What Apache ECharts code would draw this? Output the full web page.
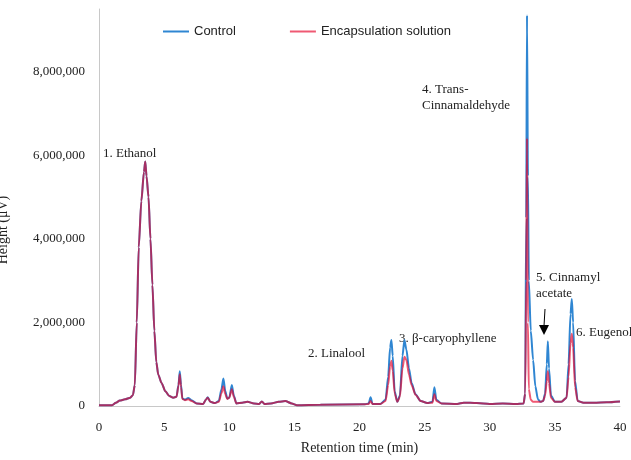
<!DOCTYPE html>
<html>
<head>
<meta charset="utf-8">
<script src="https://cdn.jsdelivr.net/npm/echarts@6/dist/echarts.min.js"></script>
<style>
  html, body { margin: 0; padding: 0; background: #fff; }
  #main { width: 631px; height: 460px; }
</style>
</head>
<body>
<div id="main"></div>
<script>
// Retention time (min)
var times = [
  0.0, 1.0, 1.3, 1.6, 2.0, 2.4, 2.6, 2.75, 2.9, 3.05, 3.25, 3.45, 3.55, 3.65, 3.8, 3.95, 4.1, 4.25, 4.4, 4.55,
  4.8, 5.1, 5.4, 5.7, 5.95, 6.1, 6.2, 6.3, 6.4, 6.6, 6.85, 7.1, 7.5, 8.0, 8.2, 8.35, 8.55, 8.9, 9.2, 9.4,
  9.55, 9.7, 9.85, 10.0, 10.2, 10.35, 10.55, 11.0, 11.4, 11.9, 12.3, 12.5, 12.7, 13.2, 13.8, 14.3, 14.8, 15.2, 17.0, 20.4,
  20.7, 20.85, 21.0, 21.6, 22.0, 22.2, 22.35, 22.45, 22.55, 22.7, 22.9, 23.1, 23.3, 23.45, 23.6, 23.8, 24.0, 24.3, 24.7, 25.2,
  25.6, 25.75, 25.9, 26.3, 27.5, 28.0, 29.0, 30.0, 31.0, 32.0, 32.6, 32.72, 32.8, 32.86, 32.93, 33.0, 33.15, 33.33, 33.5, 33.7,
  33.9, 34.1, 34.25, 34.38, 34.46, 34.55, 34.7, 35.0, 35.5, 35.9, 36.05, 36.2, 36.3, 36.4, 36.55, 36.75, 37.2, 38.0, 39.0, 40.0
];
// Height (µV), Control
var control = [
  2e4, 2e4, 8e4, 1.3e5, 1.6e5, 2e5, 2.6e5, 5e5, 2.0e6, 3.8e6, 4.9e6, 5.6e6, 5.85e6, 5.5e6, 5.0e6, 4.0e6, 2.9e6, 1.8e6, 1.05e6, 7.5e5,
  5.5e5, 3.5e5, 2.4e5, 2e5, 2.2e5, 5e5, 8.3e5, 5e5, 1.8e5, 1.5e5, 1.9e5, 1.4e5, 6e4, 5e4, 1.5e5, 2.1e5, 1e5, 7e4, 1.2e5, 4e5,
  6.6e5, 3.5e5, 1.8e5, 2e5, 5e5, 2.5e5, 6e4, 8e4, 1e5, 6e4, 5e4, 1.1e5, 5e4, 6e4, 1e5, 1.2e5, 6e4, 2e4, 3e4, 4e4,
  6e4, 2.1e5, 5e4, 5e4, 1.5e5, 7e5, 1.4e6, 1.58e6, 1.2e6, 3.5e5, 1e5, 2.5e5, 1.2e6, 1.58e6, 1.35e6, 9e5, 5.5e5, 2.8e5, 1.2e5, 7e4,
  1e5, 4.5e5, 1.5e5, 6e4, 5e4, 8e4, 7e4, 5e4, 6e4, 5e4, 6e4, 3e5, 4.5e6, 9.35e6, 5.5e6, 3.0e6, 1.8e6, 1.1e6, 4.7e5, 1.6e5,
  1e5, 1.2e5, 3e5, 1.0e6, 1.55e6, 9e5, 2.5e5, 1e5, 1e5, 2e5, 1.0e6, 2.2e6, 2.56e6, 2.0e6, 6e5, 1.2e5, 8e4, 8e4, 9e4, 1.1e5
];
// Height (µV), Encapsulation solution
var encapsulation = [
  2e4, 2e4, 8e4, 1.3e5, 1.6e5, 2e5, 2.6e5, 5e5, 2.0e6, 3.8e6, 4.9e6, 5.6e6, 5.85e6, 5.5e6, 5.0e6, 4.0e6, 2.9e6, 1.8e6, 1.05e6, 7.5e5,
  5.5e5, 3.5e5, 2.4e5, 2e5, 2.2e5, 4.8e5, 7.6e5, 4.5e5, 1.7e5, 1.4e5, 1.6e5, 1.2e5, 6e4, 5e4, 1.5e5, 2e5, 1e5, 7e4, 1e5, 3e5,
  4.7e5, 2.8e5, 1.7e5, 2e5, 4e5, 2.2e5, 6e4, 8e4, 1e5, 6e4, 5e4, 1.1e5, 5e4, 6e4, 1e5, 1.2e5, 6e4, 2e4, 3e4, 4e4,
  5e4, 1.2e5, 5e4, 5e4, 1.2e5, 5e5, 9.5e5, 1.08e6, 8.5e5, 3e5, 1e5, 2.2e5, 9e5, 1.18e6, 1.1e6, 7.5e5, 5e5, 2.7e5, 1.2e5, 7e4,
  8e4, 2.8e5, 1.2e5, 6e4, 5e4, 8e4, 7e4, 5e4, 6e4, 5e4, 6e4, 3e5, 3.0e6, 6.41e6, 2.0e6, 4e5, 1.5e5, 1e5, 1e5, 1e5,
  1e5, 1.2e5, 2.5e5, 6e5, 8.3e5, 5.5e5, 2e5, 1e5, 1e5, 2e5, 7e5, 1.5e6, 1.73e6, 1.4e6, 4.5e5, 1.2e5, 8e4, 8e4, 9e4, 1.1e5
];
var seriesNames = ['Control', 'Encapsulation solution'];
var xTicks = [0, 5, 10, 15, 20, 25, 30, 35, 40];
var yTicks = [0, 2000000, 4000000, 6000000, 8000000];
var peakLabels = [
  { text: '1. Ethanol', x: 103, y: 154 },
  { text: '2. Linalool', x: 308, y: 354 },
  { text: '3. \u03b2-caryophyllene', x: 399, y: 339 },
  { text: '4. Trans-\nCinnamaldehyde', x: 422, y: 98 },
  { text: '5. Cinnamyl\nacetate', x: 536, y: 286 },
  { text: '6. Eugenol', x: 576, y: 333 }
];

function pairs(xs, ys) {
  var out = [];
  for (var i = 0; i < xs.length; i++) out.push([xs[i], ys[i]]);
  return out;
}

var serifFont = '"Liberation Serif", "Times New Roman", serif';
var chart = echarts.init(document.getElementById('main'), null, { renderer: 'canvas' });

var graphics = peakLabels.map(function (p) {
  return {
    type: 'text',
    left: p.x,
    top: p.y - (p.text.indexOf('\n') >= 0 ? 16 : 8),
    style: { text: p.text, font: '13px ' + serifFont, fill: '#222', lineHeight: 16 }
  };
});
// arrow to cinnamyl acetate
graphics.push({
  type: 'line',
  shape: { x1: 545, y1: 309, x2: 544, y2: 326 },
  style: { stroke: '#000', lineWidth: 1 }
});
graphics.push({
  type: 'polygon',
  shape: { points: [[539, 325], [549, 325], [544, 335]] },
  style: { fill: '#000' }
});
// y axis title (partly off the left edge, as in the reference)
graphics.push({
  type: 'text',
  x: 3,
  y: 230,
  rotation: Math.PI / 2,
  style: { text: 'Height (\u03bcV)', font: '14px ' + serifFont, fill: '#222', align: 'center', verticalAlign: 'middle' }
});

chart.setOption({
  animation: false,
  backgroundColor: '#fff',
  grid: { left: 99, right: 11, top: 9, bottom: 48, containLabel: false },
  legend: {
    data: seriesNames,
    left: 158,
    top: 20,
    itemGap: 54,
    itemWidth: 26,
    itemHeight: 2,
    icon: 'rect',
    textStyle: { fontFamily: '"Liberation Sans", Arial, sans-serif', fontSize: 13, color: '#222' }
  },
  xAxis: {
    type: 'value',
    min: xTicks[0],
    max: xTicks[xTicks.length - 1],
    interval: 5,
    name: 'Retention time (min)',
    nameLocation: 'middle',
    nameGap: 35,
    nameTextStyle: { fontFamily: serifFont, fontSize: 14, color: '#222' },
    axisLine: { show: true, lineStyle: { color: '#c8c8c8', width: 1 } },
    axisTick: { show: false },
    splitLine: { show: false },
    axisLabel: { margin: 15, fontFamily: serifFont, fontSize: 13, color: '#222' }
  },
  yAxis: {
    type: 'value',
    min: yTicks[0],
    max: 9500000,
    interval: 2000000,
    axisLine: { show: true, lineStyle: { color: '#c8c8c8', width: 1 } },
    axisTick: { show: false },
    splitLine: { show: false },
    axisLabel: {
      margin: 14,
      showMaxLabel: false,
      fontFamily: serifFont, fontSize: 13, color: '#222',
      formatter: function (v) {
        if (yTicks.indexOf(v) < 0) return '';
        return v.toString().replace(/\B(?=(\d{3})+(?!\d))/g, ',');
      }
    }
  },
  series: [
    {
      name: seriesNames[0],
      type: 'line',
      data: pairs(times, control),
      showSymbol: false,
      symbol: 'none',
      smooth: 0.25,
      smoothMonotone: 'x',
      color: '#2f86d2',
      lineStyle: { width: 2, color: '#2f86d2' },
      z: 2
    },
    {
      name: seriesNames[1],
      type: 'line',
      data: pairs(times, encapsulation),
      showSymbol: false,
      symbol: 'none',
      smooth: 0.25,
      smoothMonotone: 'x',
      color: 'rgba(230,0,40,0.65)',
      lineStyle: { width: 2, color: 'rgba(230,0,40,0.65)' },
      z: 3
    }
  ],
  graphic: graphics
});
</script>
</body>
</html>
